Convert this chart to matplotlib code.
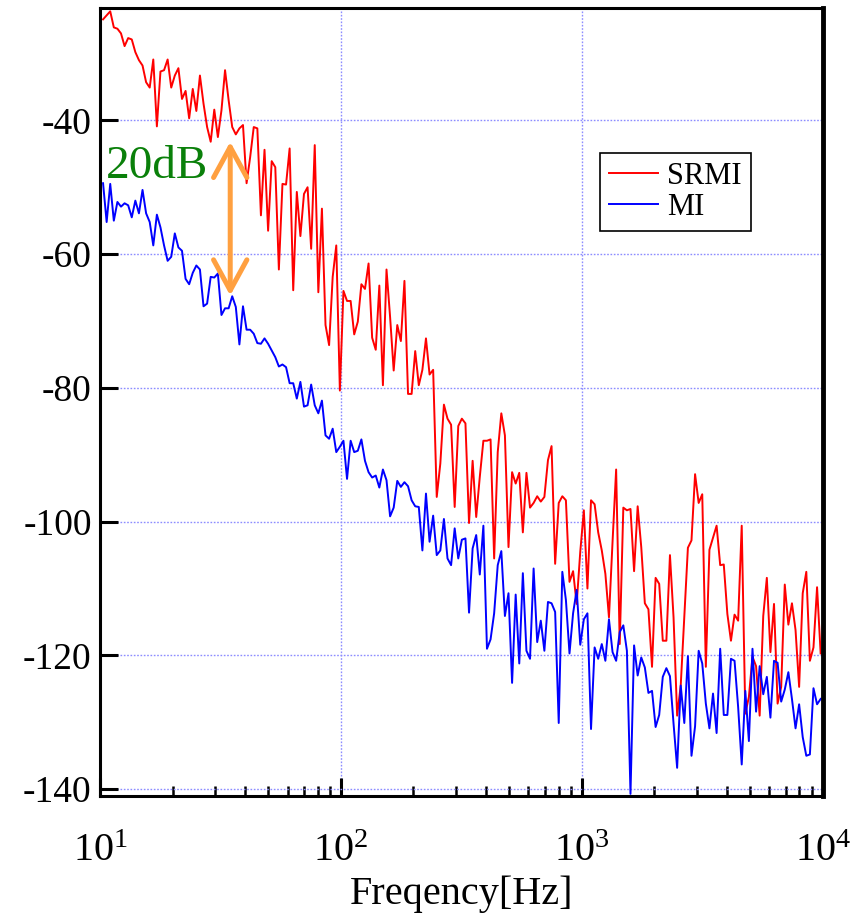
import numpy as np
import matplotlib
matplotlib.use("Agg")
import matplotlib.pyplot as plt

plt.rcParams['font.family'] = ['Liberation Serif', 'DejaVu Serif']
plt.rcParams['mathtext.fontset'] = 'custom'
plt.rcParams['mathtext.rm'] = 'Liberation Serif'
plt.rcParams['axes.unicode_minus'] = False

srmi = [-24.9, -24.3, -23.7, -26.1, -26.3, -27.0, -28.9, -27.7, -27.9, -29.8,
        -31.0, -31.8, -34.3, -35.1, -30.9, -40.9, -32.7, -32.5, -30.9, -35.1,
        -33.3, -32.2, -36.8, -35.6, -39.7, -35.3, -38.6, -33.3, -37.5, -41.0,
        -43.2, -38.4, -42.5, -38.5, -32.5, -37.0, -41.0, -42.1, -41.2, -40.7,
        -49.4, -45.5, -41.0, -41.2, -54.2, -44.4, -56.5, -46.1, -47.0, -62.3,
        -49.5, -49.6, -44.2, -65.4, -50.7, -57.3, -51.0, -50.0, -59.2, -43.7,
        -65.7, -53.2, -70.6, -73.6, -63.4, -58.7, -80.4, -65.5, -67.0, -67.0,
        -72.0, -70.1, -64.5, -65.2, -61.4, -72.5, -74.3, -64.7, -79.6, -62.3,
        -69.4, -77.4, -70.6, -73.0, -64.0, -80.9, -80.9, -74.5, -79.6, -77.3,
        -72.6, -78.0, -77.3, -96.3, -91.3, -82.5, -84.6, -85.5, -97.8, -85.7,
        -84.6, -85.3, -100.2, -90.9, -99.3, -93.3, -87.9, -87.9, -87.7, -105.5,
        -89.6, -83.8, -87.1, -103.8, -92.6, -94.3, -92.7, -101.6, -92.7, -97.9,
        -97.2, -96.2, -97.0, -96.3, -90.8, -88.7, -106.3, -97.2, -96.2, -96.8,
        -109.0, -107.4, -112.3, -104.5, -98.3, -110.0, -96.8, -97.4, -101.6, -104.3,
        -107.8, -114.3, -103.0, -92.2, -118.3, -97.9, -98.3, -98.1, -107.4, -97.7,
        -103.8, -112.2, -113.1, -121.7, -108.4, -109.3, -117.8, -117.8, -105.0, -114.3,
        -129.0, -124.5, -114.3, -103.9, -102.8, -92.9, -97.2, -95.9, -121.7, -104.2,
        -102.4, -100.6, -106.5, -106.4, -113.8, -117.8, -113.9, -114.8, -100.6, -128.7,
        -126.2, -120.2, -121.6, -129.0, -114.1, -108.4, -119.5, -112.3, -127.2, -124.7,
        -109.4, -115.4, -112.2, -116.2, -124.7, -110.7, -107.5, -120.8, -118.8, -109.8,
        -119.7]

mi = [-49.4, -55.2, -49.5, -55.0, -52.2, -52.9, -52.4, -52.7, -54.5, -52.0,
      -53.9, -50.4, -53.9, -55.2, -58.7, -54.1, -56.0, -58.7, -61.0, -60.4,
      -56.9, -59.0, -59.5, -63.7, -64.5, -62.8, -61.7, -62.3, -67.8, -67.4,
      -63.4, -63.5, -62.9, -69.1, -68.1, -68.1, -66.3, -67.9, -73.5, -67.8,
      -71.3, -71.3, -71.9, -73.3, -73.4, -72.6, -73.4, -74.4, -75.4, -76.8,
      -76.5, -76.9, -79.3, -79.3, -81.6, -79.1, -82.8, -82.6, -79.5, -82.6,
      -83.8, -81.9, -87.1, -87.6, -86.1, -89.6, -88.8, -87.9, -93.6, -87.9,
      -89.6, -89.4, -87.7, -90.9, -92.6, -93.4, -93.1, -94.9, -92.2, -93.8,
      -99.2, -97.9, -93.9, -94.8, -94.1, -94.7, -96.8, -97.7, -97.8, -104.3,
      -95.8, -103.0, -99.1, -105.0, -104.3, -99.6, -105.5, -106.5, -101.0, -105.5,
      -102.7, -102.5, -113.6, -104.0, -102.0, -107.9, -100.6, -119.0, -117.6, -113.7,
      -106.5, -104.4, -114.1, -110.7, -124.1, -110.9, -121.2, -107.7, -119.3, -120.5,
      -107.0, -118.0, -114.8, -119.3, -112.0, -112.2, -113.5, -130.1, -107.5, -111.7,
      -119.7, -113.7, -110.2, -118.4, -114.6, -113.7, -131.0, -118.8, -120.5, -118.3,
      -120.8, -114.6, -119.5, -120.8, -116.5, -115.5, -119.3, -140.7, -118.5, -123.0,
      -120.3, -121.8, -125.6, -125.3, -130.7, -128.9, -123.2, -121.9, -123.1, -130.2,
      -136.8, -124.5, -130.1, -120.1, -135.0, -130.6, -119.3, -121.2, -127.2, -130.9,
      -125.7, -131.6, -119.0, -128.9, -128.9, -120.5, -120.8, -127.7, -136.3, -125.3,
      -132.8, -119.0, -128.4, -121.6, -125.8, -123.2, -129.3, -120.8, -121.1, -126.9,
      -125.1, -122.5, -126.5, -130.9, -127.3, -132.2, -135.0, -134.8, -124.9, -127.3,
      -126.5]

freq = np.logspace(1.0125, 3.991, len(srmi))

# 20 dB gap marker
gap_freq = 34.7
gap_top = -43.2
gap_bottom = -66.2

fig = plt.figure(figsize=(8.58, 9.18), dpi=100)
ax = fig.add_axes([0.1166, 0.133, 0.8424, 0.8583])

ax.semilogx(freq, srmi, color='#ff0000', lw=1.4, label='SRMI')
ax.semilogx(freq, mi, color='#0000ff', lw=1.4, label='MI')

ax.set_xlim(10, 1e4)
ax.set_ylim(-141, -23.2)
ax.set_yticks([-40, -60, -80, -100, -120, -140])

ax.grid(True, which='major', color='#8c8cff', linestyle=(0, (1.2, 1.2)), lw=1.0)

for s in ax.spines.values():
    s.set_linewidth(2.2)
ax.spines['right'].set_linewidth(3.5)

ax.tick_params(axis='y', which='major', direction='in', length=13, width=2.2,
               labelsize=27, pad=6, right=False)
ax.tick_params(axis='x', which='major', direction='in', length=13, width=2.2,
               labelsize=29, pad=27, top=False)
ax.tick_params(axis='x', which='minor', direction='in', length=7, width=1.8, top=False)

ax.set_xlabel('Freqency[Hz]', fontsize=29, labelpad=4)

ax.annotate('', xy=(gap_freq, gap_bottom), xytext=(gap_freq, gap_top),
            arrowprops=dict(arrowstyle='<->,head_length=1.1,head_width=0.6',
                            color='#ffa040', lw=3.6, mutation_scale=20,
                            shrinkA=0, shrinkB=0))
ax.text(17.3, -47.0, '20dB', color='#0a800a', fontsize=34, ha='center', va='center')

leg = ax.legend(loc='upper left', bbox_to_anchor=(0.692, 0.816), borderaxespad=0,
                fontsize=22, handlelength=1.6, handletextpad=0.3, labelspacing=0.05,
                borderpad=0.3, fancybox=False, framealpha=1)
leg.get_frame().set_edgecolor('black')
leg.get_frame().set_linewidth(1.2)

fig.savefig('out.png', dpi=100)
